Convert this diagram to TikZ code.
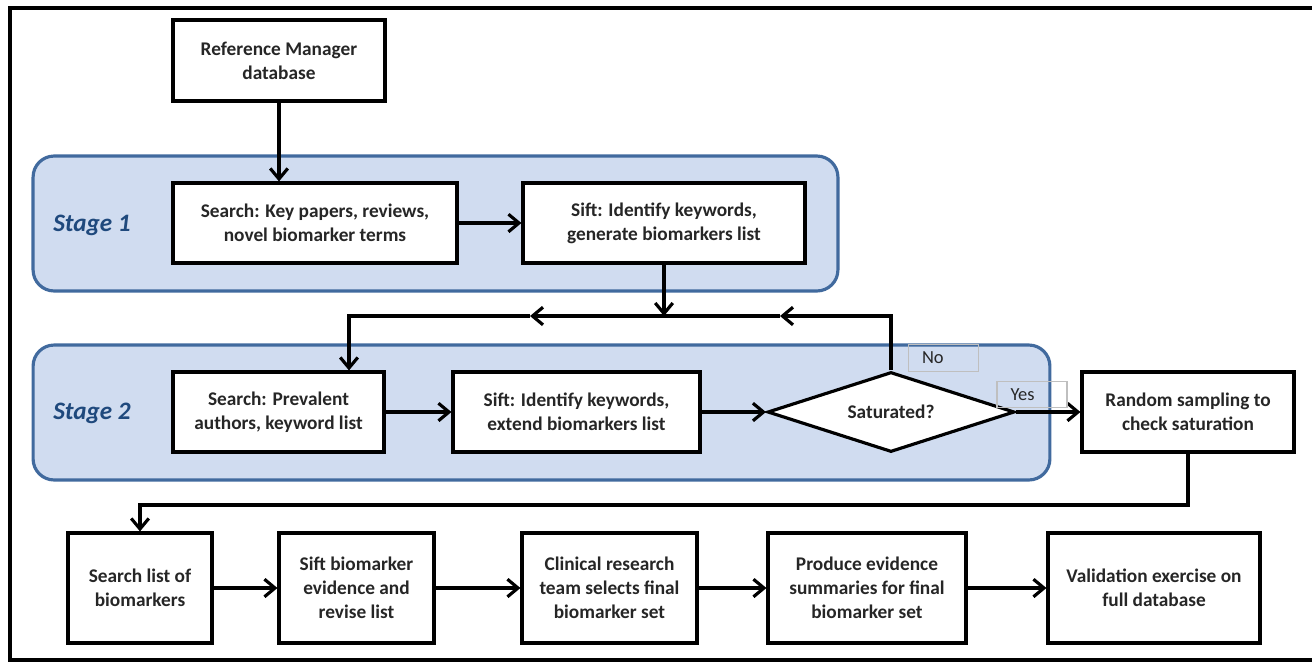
\documentclass[tikz,border=0pt]{standalone}
\usepackage{fontspec}
\setmainfont{Carlito}
\usetikzlibrary{arrows.meta,shapes.geometric}
\definecolor{stageline}{RGB}{65,106,158}
\definecolor{stagefill}{RGB}{208,220,240}
\definecolor{stagetext}{RGB}{31,73,125}

\begin{document}
\begin{tikzpicture}[x=0.02cm, y=-0.02cm, line width=1.8pt,
    >={Straight Barb[length=6pt,width=10pt,line width=1.8pt]},
    every node/.style={font=\fontsize{11}{13.6}\selectfont\bfseries, text=black!85},
    stepbox/.style={draw, fill=white, align=center, inner sep=0pt, minimum height=1.6cm},
    stage/.style={draw=stageline, fill=stagefill, line width=1.8pt, rounded corners=12pt,
        minimum height=2.7cm},
    stagelabel/.style={font=\fontsize{14.3}{16}\selectfont\bfseries\itshape, text=stagetext},
    tag/.style={draw=black!25, line width=0.6pt, inner xsep=0.27cm, inner ysep=0pt,
        text width=0.86cm, align=left, minimum height=0.53cm,
        font=\fontsize{10.5}{12}\selectfont}]
        \useasboundingbox (0,0) rectangle (1312,664);
        \draw (1312,8) -- (10,8) -- (10,660) -- (1312,660);
        % the two stages
        \node[stage, minimum width=16.1cm] (stage1) at (435.5,223.5) {};
        \node[stage, minimum width=20.34cm] (stage2) at (541.5,412.5) {};
        \node[stagelabel] (label1) at (92,225) {Stage 1};
        \node[stagelabel] (label2) at (92,413) {Stage 2};
        % boxes
        \node[stepbox, minimum width=4.24cm, minimum height=1.62cm] (refman) at (279,60.5)
            {Reference Manager\\database};
        \node[stepbox, minimum width=5.68cm] (search1) at (315,223)
            {Search: Key papers, reviews,\\novel biomarker terms};
        \node[stepbox, minimum width=5.64cm] (sift1) at (664,223)
            {Sift: Identify keywords,\\generate biomarkers list};
        \node[stepbox, minimum width=4.22cm] (search2) at (278.5,412)
            {Search: Prevalent\\authors, keyword list};
        \node[stepbox, minimum width=4.94cm] (sift2) at (576.5,412)
            {Sift: Identify keywords,\\extend biomarkers list};
        \node[draw, fill=white, diamond, inner sep=0pt, aspect=3.09,
            minimum width=4.94cm, minimum height=1.6cm] (sat) at (891,412) {Saturated?};
        \node[stepbox, minimum width=4.24cm] (random) at (1188,412)
            {Random sampling to\\check saturation};
        \node[stepbox, minimum width=2.88cm, minimum height=2.2cm] (list) at (140,588)
            {Search list of\\biomarkers};
        \node[stepbox, minimum width=3.1cm, minimum height=2.2cm] (revise) at (356.5,588)
            {Sift biomarker\\evidence and\\revise list};
        \node[stepbox, minimum width=3.5cm, minimum height=2.2cm] (team) at (609.5,588)
            {Clinical research\\team selects final\\biomarker set};
        \node[stepbox, minimum width=3.96cm, minimum height=2.2cm] (summary) at (867,588)
            {Produce evidence\\summaries for final\\biomarker set};
        \node[stepbox, minimum width=4.24cm, minimum height=2.2cm] (valid) at (1154,588)
            {Validation exercise on\\full database};
        % connectors
        \coordinate (tipA) at (780,316);
        \coordinate (tipB) at (530,316);
        \coordinate (turn) at (349,316);
        \coordinate (bend) at (140,505);
        \draw[->] (refman) -- (search1.north -| refman);
        \draw[->] (search1) -- (sift1);
        \draw[->] (sift1) -- (sift1 |- turn);
        \draw[->] (sat.north) |- (tipA);
        \draw[->] (tipA) -- (tipB);
        \draw[->] (tipB) -| (search2.north -| turn);
        \draw[->] (search2) -- (sift2);
        \draw[->] (sift2) -- (sat);
        \draw[->] (sat) -- (random);
        \draw[->] (random) |- (bend) -- (list);
        \foreach \from/\to in {list/revise, revise/team, team/summary, summary/valid}
            \draw[->] (\from) -- (\to);
        \node[tag] (no) at (943.5,358) {No};
        \node[tag] (yes) at (1032,394.5) {Yes};
    \end{tikzpicture}
\end{document}
